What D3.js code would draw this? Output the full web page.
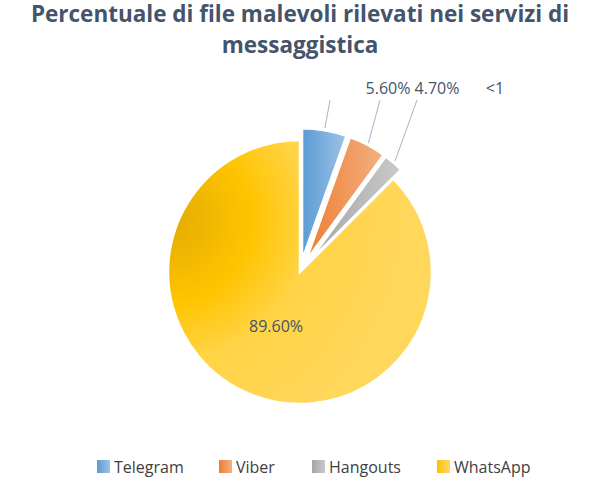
<!DOCTYPE html>
<html><head><meta charset="utf-8">
<script src="https://cdn.jsdelivr.net/npm/d3@7"></script>
<style>body{margin:0;background:#fff}</style>
</head><body>
<svg id="c" width="600" height="494"></svg>
<script>
const categories = ["Telegram", "Viber", "Hangouts", "WhatsApp"];
const values = [5.6, 4.7, 2.5, 89.6];
const labels = ["5.60%", "4.70%", "<1", "89.60%"];
const colorsA = ["#5b9bd5", "#ed7d31", "#a5a5a5", "#ffc000"];
const colorsB = ["#9dc3e6", "#f4b183", "#c9c9c9", "#ffd966"];
const exploded = [true, true, true, false];

const svg = d3.select("#c");
const font = "'Open Sans', sans-serif";
svg.append("text").attr("x", 300).attr("y", 22).attr("text-anchor", "middle")
  .style("font", "bold 22.5px " + font).attr("fill", "#44546a")
  .selectAll("tspan").data(["Percentuale di file malevoli rilevati nei servizi di", "messaggistica"])
  .join("tspan").attr("x", 300).attr("dy", (d, i) => i ? 31 : 0).text(d => d);

const defs = svg.append("defs");
categories.forEach((c, i) => {
  const g = defs.append("linearGradient").attr("id", "g" + i)
    .attr("x1", "0").attr("y1", "0").attr("x2", "1").attr("y2", "0");
  g.append("stop").attr("offset", "0").attr("stop-color", colorsA[i]);
  g.append("stop").attr("offset", "1").attr("stop-color", colorsB[i]);
});
const gw = defs.append("radialGradient").attr("id", "gw").attr("cx", "0").attr("cy", "0.3").attr("r", "0.9");
gw.append("stop").attr("offset", "0").attr("stop-color", "#e3ab00");
gw.append("stop").attr("offset", "0.35").attr("stop-color", "#ffc400");
gw.append("stop").attr("offset", "0.6").attr("stop-color", "#ffd447");
gw.append("stop").attr("offset", "1").attr("stop-color", "#ffd75a");

const cx = 300, cy = 272, r = 132, off = 12;
const pie = d3.pie().sort(null).value(d => d)(values);
const arc = d3.arc().innerRadius(0).outerRadius(r);
const g = svg.append("g").attr("transform", `translate(${cx},${cy})`);
g.selectAll("path").data(pie).join("path")
  .attr("d", arc)
  .attr("fill", (d, i) => i === 3 ? "url(#gw)" : `url(#g${i})`)
  .attr("stroke", "#fff").attr("stroke-width", 2.5)
  .attr("transform", (d, i) => {
    if (!exploded[i]) return null;
    const a = (d.startAngle + d.endAngle) / 2;
    return `translate(${off * Math.sin(a)},${-off * Math.cos(a)})`;
  });

// leader lines and labels
const labelX = [388, 437, 495];
pie.slice(0, 3).forEach((d, i) => {
  const a = (d.startAngle + d.endAngle) / 2;
  const rr = r + off + 2;
  const x0 = rr * Math.sin(a), y0 = -rr * Math.cos(a);
  const lx = [330, 380, 417][i] - cx, ly = 100 - cy;
  g.append("line").attr("x1", x0).attr("y1", y0).attr("x2", lx).attr("y2", ly)
    .attr("stroke", "#a6b4c8").attr("stroke-width", 1);
  svg.append("text").attr("x", labelX[i]).attr("y", 94).attr("text-anchor", "middle")
    .style("font", "16px " + font).attr("fill", "#44546a").text(labels[i]);
});
svg.append("text").attr("x", 276).attr("y", 332).attr("text-anchor", "middle")
  .style("font", "16px " + font).attr("fill", "#44546a").text(labels[3]);

// legend
const lx0 = [97, 219, 312, 437];
const lg = svg.selectAll("g.lg").data(categories).join("g").attr("class", "lg")
  .attr("transform", (d, i) => `translate(${lx0[i]},460)`);
lg.append("rect").attr("width", 13).attr("height", 13).attr("fill", (d, i) => `url(#g${i})`);
lg.append("text").attr("x", 17).attr("y", 13).style("font", "16px " + font)
  .attr("fill", "#404040").text(d => d);
</script>
</body></html>
